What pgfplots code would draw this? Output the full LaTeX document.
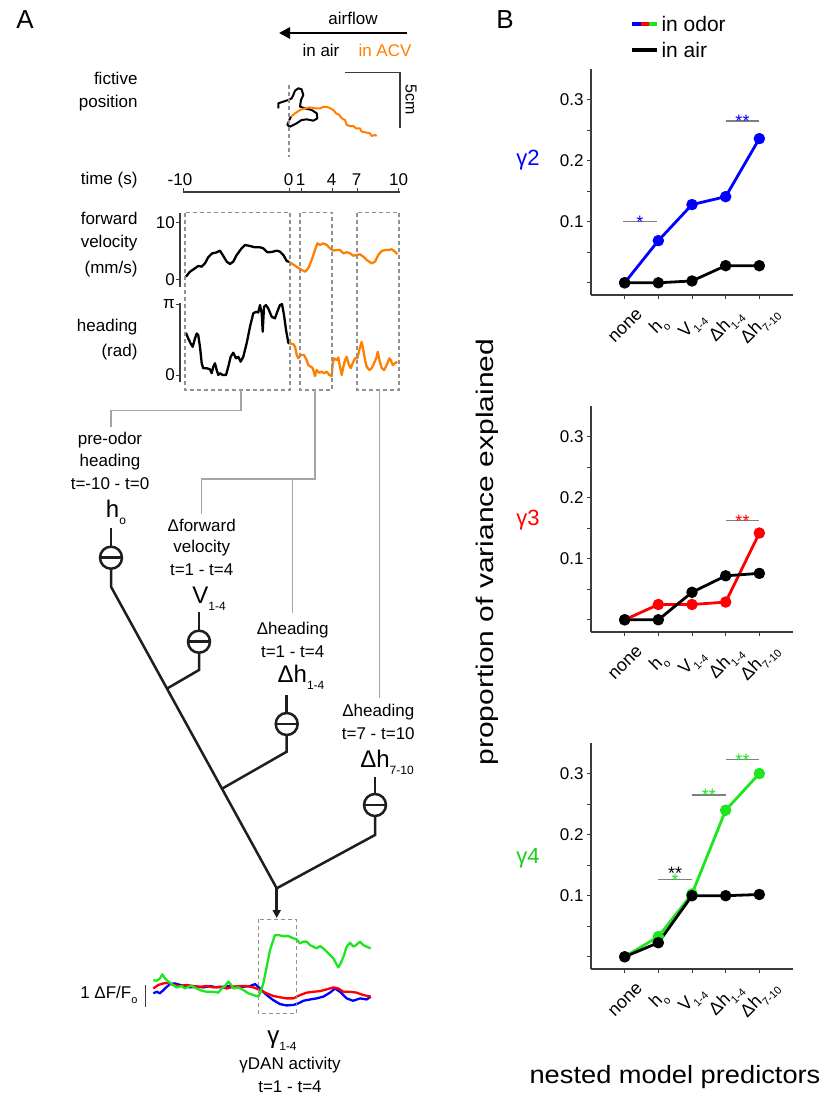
\documentclass[border=0pt]{standalone}
\usepackage{pgfplots}
\pgfplotsset{compat=1.18}
\usepackage{fontspec}
\setmainfont{Liberation Sans}
\usetikzlibrary{arrows.meta}
\definecolor{myblue}{RGB}{0,0,255}
\definecolor{myred}{RGB}{255,0,0}
\definecolor{mygreen}{RGB}{30,230,30}
\definecolor{myorange}{RGB}{255,128,0}
\definecolor{conn}{RGB}{165,165,165}
\definecolor{boxg}{RGB}{145,145,145}
\definecolor{axg}{RGB}{60,60,60}
\definecolor{treec}{RGB}{30,30,30}
\newcommand{\fs}[1]{\fontsize{#1}{#1}\selectfont}
\newcommand{\sub}[1]{\raisebox{-0.3em}{\fontsize{12}{12}\selectfont #1}}
\newcommand{\subb}[1]{\raisebox{-0.3em}{\fontsize{11}{11}\selectfont #1}}

\tikzset{
  sig/.style={gray, line width=1.2pt},
  trace/.style={line width=2.3pt, line join=round},
  pline/.style={line width=2.8pt, mark=*, mark size=4.3pt, line join=round},
}
\pgfplotsset{
  bstyle/.style={
    scale only axis, width=202pt, height=226pt,
    xmin=-1, xmax=5, ymin=-0.02, ymax=0.35,
    axis lines*=left,
    axis line style={axg, line width=1.2pt},
    xtick={0,1,2,3,4},
    xticklabels={none, h\subb{o}, V\subb{1-4}, Δh\subb{1-4}, Δh\subb{7-10}},
    xticklabel style={font=\fs{18}, xshift=1pt, yshift=-27pt, rotate=45, anchor=center, inner sep=0pt},
    ytick={0.1,0.2,0.3}, yticklabels={0.1,0.2,0.3},
    minor ytick={0,0.05,0.15,0.25},
    yticklabel style={font=\fs{17}},
    tick align=outside, major tick length=4pt, minor tick length=4pt,
    tick style={axg, line width=1pt},
    clip=false,
  },
}

\begin{document}
\begin{tikzpicture}
\path[use as bounding box] (0pt,0pt) rectangle (822pt,-1100pt);

% gamma2
\begin{axis}[bstyle, at={(591pt,-295pt)}, anchor=south west]
\addplot[myblue, pline] coordinates {(0,0) (1,0.069) (2,0.128) (3,0.141) (4,0.236)};
\addplot[black, pline] coordinates {(0,0) (1,0) (2,0.003) (3,0.028) (4,0.028)};
\draw[sig] (axis cs:-0.05,0.1) -- (axis cs:0.95,0.1);
\node[myblue, font=\fs{18}, anchor=base] at (axis cs:0.45,0.1) [yshift=-7pt] {*};
\draw[sig] (axis cs:3,0.265) -- (axis cs:4,0.265);
\node[myblue, font=\fs{18}, anchor=base] at (axis cs:3.5,0.265) [yshift=-7pt] {**};
\end{axis}

% gamma3
\begin{axis}[bstyle, at={(591pt,-632pt)}, anchor=south west]
\addplot[myred, pline] coordinates {(0,0) (1,0.025) (2,0.025) (3,0.029) (4,0.142)};
\addplot[black, pline] coordinates {(0,0) (1,0) (2,0.045) (3,0.072) (4,0.076)};
\draw[sig] (axis cs:3,0.162) -- (axis cs:4,0.162);
\node[myred, font=\fs{18}, anchor=base] at (axis cs:3.5,0.162) [yshift=-7pt] {**};
\end{axis}

% gamma4
\begin{axis}[bstyle, at={(591pt,-969pt)}, anchor=south west]
\addplot[mygreen, pline] coordinates {(0,0) (1,0.033) (2,0.103) (3,0.240) (4,0.300)};
\addplot[black, pline] coordinates {(0,0) (1,0.023) (2,0.100) (3,0.100) (4,0.102)};
\draw[sig] (axis cs:1,0.126) -- (axis cs:2,0.126);
\node[mygreen, font=\fs{18}, anchor=base] at (axis cs:1.5,0.126) [yshift=-7pt] {*};
\node[black, font=\fs{18}, anchor=base] at (axis cs:1.5,0.126) [yshift=0pt] {**};
\draw[sig] (axis cs:2,0.265) -- (axis cs:3,0.265);
\node[mygreen, font=\fs{18}, anchor=base] at (axis cs:2.5,0.265) [yshift=-7pt] {**};
\draw[sig] (axis cs:3,0.323) -- (axis cs:4,0.323);
\node[mygreen, font=\fs{18}, anchor=base] at (axis cs:3.5,0.323) [yshift=-7pt] {**};
\end{axis}

% fictive position trajectory (cm)
\begin{axis}[at={(267pt,-142pt)}, anchor=south west, scale only axis, width=132pt, height=66pt,
  xmin=-2, xmax=10, ymin=-2, ymax=4, hide axis, clip=false]
\addplot[black, trace, line width=2pt] coordinates {(-0.97,1.06) (-0.97,1.52) (-0.52,1.67) (-0.06,1.82) (0.24,1.97) (0.39,2.27) (0.55,2.67) (0.85,2.88) (1.15,2.79) (1.30,2.27) (1.09,1.82) (1.00,1.21) (1.45,1.06) (2.06,0.91) (2.52,0.61) (2.58,0.15) (2.21,-0.06) (1.61,0.06) (1.15,0.0) (0.70,-0.30) (0.09,-0.61) (-0.15,-0.45) (0.03,0.0) (0.18,0.30)};
\addplot[myorange, trace, line width=2pt] coordinates {(0.18,0.30) (0.55,0.61) (1.00,0.91) (1.45,1.06) (1.91,1.15) (2.36,1.06) (2.82,1.06) (3.18,1.21) (3.58,1.15) (4.03,0.91) (4.27,0.61) (4.58,0.45) (4.79,0.15) (5.09,0.0) (5.24,-0.45) (5.55,-0.55) (5.85,-0.55) (6.09,-0.76) (6.45,-0.76) (6.61,-1.06) (7.06,-1.15) (7.36,-1.21) (7.52,-1.45) (7.82,-1.36) (7.97,-1.45)};
\end{axis}

% forward velocity
\begin{axis}[at={(180pt,-287pt)}, anchor=south west, scale only axis, width=220pt, height=74pt,
  xmin=-10.07, xmax=10.2, ymin=-1.23, ymax=11.75,
  axis y line*=left, axis x line=none, axis line style={axg, line width=1.2pt},
  ytick={0,10}, yticklabels={0,10}, yticklabel style={font=\fs{17}, inner sep=1pt},
  tick align=outside, major tick length=4pt, tick style={axg, line width=1pt}, clip=false]
\addplot[black, trace] coordinates {(-9.52,0.58) (-9.15,1.46) (-8.69,2.05) (-8.39,2.46) (-8.07,2.34) (-7.77,2.92) (-7.47,3.98) (-7.10,4.68) (-6.76,4.80) (-6.39,5.15) (-6.08,4.21) (-5.77,3.22) (-5.47,2.81) (-5.16,3.22) (-4.85,4.39) (-4.39,5.56) (-4.08,6.14) (-3.62,5.96) (-3.16,5.73) (-2.70,5.73) (-2.40,5.56) (-2.03,4.86) (-1.62,4.91) (-1.16,5.15) (-0.86,4.97) (-0.55,4.39) (-0.24,3.33) (0,3.16)};
\addplot[myorange, trace] coordinates {(0,3.16) (0.53,2.51) (0.99,1.93) (1.45,1.46) (1.75,2.05) (2.06,3.51) (2.37,5.26) (2.58,6.43) (2.83,6.14) (3.13,6.43) (3.45,6.14) (3.75,5.56) (4.06,5.15) (4.37,5.26) (4.67,5.26) (4.98,4.68) (5.29,4.86) (5.59,4.68) (5.90,4.26) (6.21,4.39) (6.52,4.50) (6.82,4.09) (7.13,3.51) (7.59,2.92) (7.90,3.22) (8.20,4.39) (8.52,5.09) (8.82,5.26) (9.12,5.26) (9.44,5.38) (9.74,4.97) (9.95,4.50)};
\end{axis}

% heading
\begin{axis}[at={(180pt,-382pt)}, anchor=south west, scale only axis, width=220pt, height=79pt,
  xmin=-10.07, xmax=10.2, ymin=-0.31, ymax=3.19,
  axis y line*=left, axis x line=none, axis line style={axg, line width=1.2pt},
  ytick={0,3.1416}, yticklabels={0,π}, yticklabel style={font=\fs{17}, inner sep=1pt},
  tick align=outside, major tick length=4pt, tick style={axg, line width=1pt}, clip=false]
\addplot[black, trace] coordinates {(-9.52,1.87) (-9.31,1.62) (-9.09,1.40) (-8.90,1.25) (-8.69,1.62) (-8.53,1.84) (-8.39,1.77) (-8.23,1.25) (-8.07,0.52) (-7.93,0.30) (-7.61,0.30) (-7.31,0.25) (-7.15,0.08) (-7.00,0.37) (-6.85,0.52) (-6.69,0.22) (-6.54,0.0) (-6.39,0.08) (-6.14,0.0) (-5.83,0.0) (-5.62,0.37) (-5.40,0.81) (-5.16,0.99) (-4.91,0.74) (-4.70,0.81) (-4.48,0.59) (-4.24,0.81) (-3.93,1.40) (-3.62,2.14) (-3.32,2.73) (-3.07,2.80) (-2.86,2.77) (-2.70,3.10) (-2.54,2.73) (-2.45,1.92) (-2.33,3.02) (-2.15,3.10) (-1.94,2.95) (-1.62,2.58) (-1.32,2.51) (-1.11,2.80) (-0.86,3.10) (-0.67,3.14) (-0.49,2.66) (-0.30,1.99) (-0.09,1.43) (0,1.40)};
\addplot[myorange, trace] coordinates {(0,1.40) (0.37,1.37) (0.53,1.25) (0.68,0.89) (0.83,0.74) (1.05,0.89) (1.35,0.89) (1.60,0.66) (1.75,0.44) (1.97,0.37) (2.16,0.30) (2.37,-0.05) (2.52,0.22) (2.77,0.10) (2.99,0.15) (3.20,0.08) (3.45,0.15) (3.69,0.0) (3.91,-0.05) (4.00,0.52) (4.12,0.74) (4.37,0.66) (4.52,0.78) (4.67,0.37) (4.83,0.0) (4.98,0.37) (5.13,0.66) (5.29,0.81) (5.44,0.52) (5.66,0.30) (5.84,0.52) (6.06,0.74) (6.27,0.74) (6.45,1.11) (6.67,1.47) (6.82,1.11) (6.98,0.66) (7.13,0.37) (7.37,0.22) (7.59,0.30) (7.81,0.52) (8.06,0.81) (8.15,1.03) (8.30,0.66) (8.52,0.30) (8.73,0.22) (8.98,0.44) (9.22,0.74) (9.35,0.66) (9.53,0.44) (9.74,0.52) (9.95,0.59)};
\end{axis}

% DAN activity
\begin{axis}[at={(152.75pt,-1008.7pt)}, anchor=south west, scale only axis, width=219.45pt, height=77pt,
  xmin=-9.75, xmax=10.2, ymin=-1, ymax=2.5, hide axis, clip=false]
\addplot[myblue, trace] coordinates {(-9.70,-0.30) (-9.39,-0.23) (-9.09,-0.30) (-8.64,-0.08) (-8.18,0.12) (-7.73,0.15) (-7.27,0.08) (-6.82,0.03) (-6.36,-0.03) (-5.76,0.0) (-5.15,-0.03) (-4.55,0.03) (-3.94,-0.03) (-3.33,0.0) (-2.73,0.03) (-2.12,-0.03) (-1.52,0.0) (-0.91,0.03) (-0.45,0.12) (0,-0.08) (0.61,-0.38) (1.21,-0.61) (1.82,-0.79) (2.42,-0.85) (3.03,-0.83) (3.48,-0.76) (3.94,-0.64) (4.55,-0.58) (5.15,-0.53) (5.76,-0.45) (6.36,-0.27) (6.82,-0.08) (7.27,-0.23) (7.88,-0.53) (8.48,-0.64) (9.09,-0.53) (9.70,-0.58) (10.06,-0.45)};
\addplot[myred, trace] coordinates {(-9.70,-0.08) (-9.24,0.08) (-8.79,0.15) (-8.33,0.18) (-7.88,0.08) (-7.27,0.03) (-6.67,0.08) (-6.06,0.03) (-5.45,0.0) (-4.85,0.03) (-4.24,-0.03) (-3.64,0.0) (-3.03,-0.08) (-2.42,0.0) (-1.82,0.03) (-1.21,0.03) (-0.61,-0.03) (0,-0.15) (0.61,-0.30) (1.21,-0.42) (1.82,-0.48) (2.42,-0.53) (3.03,-0.53) (3.64,-0.38) (4.24,-0.27) (4.85,-0.23) (5.45,-0.20) (6.06,-0.12) (6.67,-0.03) (7.12,-0.08) (7.58,-0.23) (8.18,-0.23) (8.79,-0.27) (9.39,-0.38) (10.06,-0.45)};
\addplot[mygreen, trace] coordinates {(-9.70,0.30) (-9.39,0.27) (-9.09,0.38) (-8.88,0.56) (-8.64,0.38) (-8.33,0.23) (-8.03,0.12) (-7.58,-0.03) (-7.12,0.03) (-6.82,-0.08) (-6.52,0.0) (-6.21,0.03) (-5.76,-0.08) (-5.30,-0.18) (-4.85,-0.23) (-4.24,-0.23) (-3.79,-0.27) (-3.48,-0.08) (-3.18,0.03) (-2.88,0.23) (-2.67,0.12) (-2.42,-0.08) (-1.97,-0.03) (-1.52,-0.15) (-1.06,-0.30) (-0.61,-0.38) (-0.15,-0.45) (0.06,-0.23) (0.30,0.15) (0.61,0.91) (0.91,1.67) (1.21,2.12) (1.36,2.35) (1.67,2.35) (2.12,2.30) (2.58,2.30) (3.03,2.20) (3.33,2.15) (3.64,1.97) (3.94,2.05) (4.24,2.05) (4.55,1.89) (4.85,1.82) (5.15,1.74) (5.45,1.85) (5.76,1.74) (6.06,1.59) (6.36,1.44) (6.67,1.29) (6.91,1.06) (7.12,0.88) (7.33,1.06) (7.58,1.36) (7.88,1.82) (8.18,2.00) (8.48,1.82) (8.73,1.89) (9.09,2.05) (9.39,1.89) (9.70,1.82) (10.06,1.74)};
\end{axis}

\begin{scope}[x=1pt,y=-1pt]
%================ PANEL B text ================
\node[font=\fs{26}] at (505,20) {B};
\draw[myblue, line width=4pt] (632,24) -- (641,24);
\draw[myred, line width=4pt] (641,24) -- (649,24);
\draw[mygreen, line width=4pt] (649,24) -- (657,24);
\node[anchor=west, font=\fs{21}] at (658,24) {in odor};
\draw[black, line width=4pt] (632,50) -- (657,50);
\node[anchor=west, font=\fs{21}] at (658,50) {in air};
\node[myblue, font=\fs{22}] at (528,160) {γ2};
\node[myred, font=\fs{22}] at (528,520) {γ3};
\node[mygreen!90!black, font=\fs{22}] at (528,858) {γ4};
\node[rotate=90, font=\fs{24}] at (487,552) {\scalebox{1.25}[1]{proportion of variance explained}};
\node[font=\fs{25}] at (675,1077) {\scalebox{1.09}[1]{nested model predictors}};

%================ PANEL A ================
\node[font=\fs{26}] at (25,20) {A};
\node[font=\fs{17}] at (353,18) {airflow};
\draw[-{Triangle[length=11pt,width=11pt]}, line width=2.8pt] (407,33) -- (279,33);
\node[font=\fs{17}] at (321,50) {in air};
\node[font=\fs{17}, myorange] at (385,50) {in ACV};
\node[anchor=east, font=\fs{17}] at (141,78) {fictive};
\node[anchor=east, font=\fs{17}] at (141,103) {position};
\draw[axg, line width=1.2pt] (345,72.7) -- (400,72.7) -- (400,128);
\node[rotate=-90, font=\fs{16}] at (411,100) {5cm};
\draw[boxg, line width=1.2pt, dash pattern=on 4pt off 3pt] (289,85) -- (289,157);

% time axis
\node[anchor=east, font=\fs{17}] at (141,180) {time (s)};
\draw[axg, line width=1.2pt] (183,192) -- (400,192);
\foreach \xx in {183,289,301,332,357,398} {\draw[axg, line width=1pt] (\xx,192) -- (\xx,188);}
\node[font=\fs{17}] at (180,180) {-10};
\node[font=\fs{17}] at (288.7,180) {0};
\node[font=\fs{17}] at (300.5,180) {1};
\node[font=\fs{17}] at (331.7,180) {4};
\node[font=\fs{17}] at (356.7,180) {7};
\node[font=\fs{17}] at (398.5,180) {10};

\node[anchor=east, font=\fs{17}] at (141,218) {forward};
\node[anchor=east, font=\fs{17}] at (141,243) {velocity};
\node[anchor=east, font=\fs{17}] at (141,269) {(mm/s)};
\node[anchor=east, font=\fs{17}] at (141,327) {heading};
\node[anchor=east, font=\fs{17}] at (141,352) {(rad)};

\begin{scope}[boxg, line width=1.3pt, dash pattern=on 4pt off 3pt]
\draw (185,212.7) rectangle (290,390);
\draw (300,212.7) rectangle (332,390);
\draw (357,212.7) rectangle (399,390);
\draw (258.3,919.3) rectangle (296.7,1013.3);
\end{scope}

\begin{scope}[conn, line width=1.3pt]
\draw (241,390) -- (241,410.7) -- (111,410.7) -- (111,427);
\draw (315,390) -- (315,479) -- (201.7,479) -- (201.7,514);
\draw (292.7,479) -- (292.7,613);
\draw (379.3,390) -- (379.3,698);
\end{scope}

\node[font=\fs{17}] at (110,440) {pre-odor};
\node[font=\fs{17}] at (110,462) {heading};
\node[font=\fs{17}] at (110,484) {t=-10 - t=0};
\node[font=\fs{24}] at (116,512) {h\sub{o}};
\node[font=\fs{17}] at (201.7,525) {Δforward};
\node[font=\fs{17}] at (201.7,548) {velocity};
\node[font=\fs{17}] at (201.7,570) {t=1 - t=4};
\node[font=\fs{24}] at (209,599) {V\sub{1-4}};
\node[font=\fs{17}] at (292.7,630) {Δheading};
\node[font=\fs{17}] at (292.7,652) {t=1 - t=4};
\node[font=\fs{24}] at (301,677) {Δh\sub{1-4}};
\node[font=\fs{17}] at (378.3,711.7) {Δheading};
\node[font=\fs{17}] at (378.3,733.3) {t=7 - t=10};
\node[font=\fs{24}] at (387,762) {Δh\sub{7-10}};

\begin{scope}[treec, line width=2.5pt]
\draw (111,528) -- (111,546.7); \draw (111,557.7) circle[radius=11pt]; \draw (100,557.7) -- (122,557.7);
\draw (111,568.7) -- (111,586.7) -- (276.7,888.3);
\draw (199,611.7) -- (199,630.7); \draw (199,641.7) circle[radius=11pt]; \draw (188,641.7) -- (210,641.7);
\draw (199,652.7) -- (199,670) -- (167.5,688.3);
\draw (286.7,695) -- (286.7,713); \draw (286.7,724) circle[radius=11pt]; \draw (275.7,724) -- (297.7,724);
\draw (286.7,735) -- (286.7,751.7) -- (222,788.7);
\draw (375,776.7) -- (375,794); \draw (375,805) circle[radius=11pt]; \draw (364,805) -- (386,805);
\draw (375,816) -- (375,835) -- (276.7,888.3);
\draw[-{Triangle[length=8pt,width=8pt]}] (276.7,888.3) -- (276.7,918);
\end{scope}

\draw[axg, line width=1.3pt] (145.7,985) -- (145.7,1007);
\node[anchor=east, font=\fs{17}] at (141,995) {1 ΔF/F\subb{o}};
\node[font=\fs{24}] at (282,1041) {γ\sub{1-4}};
\node[font=\fs{17}] at (290,1065) {γDAN activity};
\node[font=\fs{17}] at (290,1087) {t=1 - t=4};
\end{scope}
\end{tikzpicture}
\end{document}
